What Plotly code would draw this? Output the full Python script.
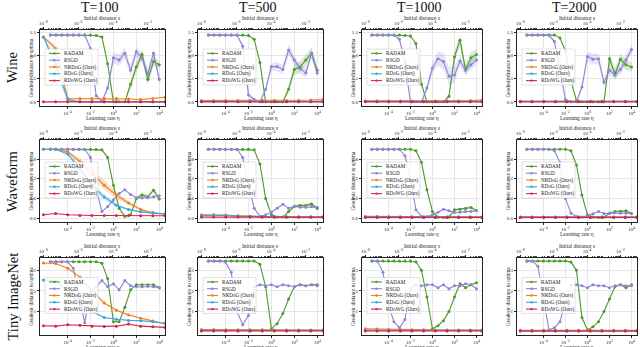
import plotly.graph_objects as go

# ---------------- data ----------------
lr_exp = [-5.5, -5.0, -4.5, -4.0, -3.5, -3.0, -2.5, -2.0, -1.5, -1.0,
          -0.5, 0.0, 0.5, 1.0, 1.5, 2.0, 2.5, 3.0, 3.5, 4.0]
eps_exp = [-8.0, -7.3, -6.6, -5.9, -5.2, -4.5, -3.8, -3.1, -2.4, -1.7, -1.0]
learning_rate = [10 ** e for e in lr_exp]
init_distance = [10 ** e for e in eps_exp]

horizons = ["T=100", "T=500", "T=1000", "T=2000"]
datasets = ["Wine", "Waveform", "Tiny ImageNet"]
methods = ["RADAM", "RSGD", "NRDoG (Ours)", "RDoG (Ours)", "RDoWG (Ours)"]
colors = ["#4d9a2c", "#8f82d8", "#f07e1b", "#3ba5dd", "#d42649"]

lr_tick_exp = [-4, -2, 0, 2, 4]
eps_tick_exp = [-8, -6, -4, -2]
wine_yticks = [0.0, 0.5, 1.0, 1.5]
wave_yticks = [0.0, 0.6, 1.2, 1.8]
tiny_yticks = [1, 2, 3]

# one list per horizon: T=100, T=500, T=1000, T=2000
wine_radam = [
    [1.44, 1.44, 1.44, 1.44, 1.44, 1.44, 1.44, 1.44, 1.43, 1.40, 0.82, 0.0, 0.0, 0.0, 0.38, 0.75, 1.02, 0.48, 0.87, 0.80],
    [1.44, 1.44, 1.44, 1.44, 1.44, 1.44, 1.44, 1.43, 1.35, 0.85, 0.0, 0.0, 0.0, 0.0, 0.27, 0.70, 0.75, 0.90, 1.05, 0.68],
    [1.44, 1.44, 1.44, 1.44, 1.44, 1.44, 1.43, 1.42, 1.26, 0.38, 0.0, 0.0, 0.0, 0.0, 0.12, 0.97, 1.33, 0.70, 0.95, 1.02],
    [1.44, 1.44, 1.44, 1.44, 1.44, 1.44, 1.38, 1.10, 0.45, 0.03, 0.0, 0.0, 0.0, 0.0, 0.0, 0.93, 0.60, 0.92, 0.80, 0.75],
]
wine_rsgd = [
    [1.44, 1.44, 1.44, 1.44, 1.44, 1.44, 1.44, 1.15, 0.13, 0.01, 0.30, 0.95, 0.90, 1.05, 0.68, 1.08, 0.95, 0.60, 1.05, 0.48],
    [1.44, 1.44, 1.44, 1.44, 1.44, 1.44, 1.20, 0.15, 0.05, 0.0, 0.27, 0.76, 0.76, 0.70, 1.12, 0.90, 0.72, 0.62, 1.05, 0.62],
    [1.44, 1.44, 1.44, 1.44, 1.44, 1.35, 0.85, 0.0, 0.0, 0.0, 0.30, 0.73, 0.93, 0.87, 0.55, 0.58, 0.88, 0.68, 0.80, 0.90],
    [1.44, 1.44, 1.44, 1.44, 1.44, 1.30, 0.70, 0.05, 0.0, 0.0, 0.32, 0.98, 0.92, 0.93, 0.42, 0.68, 0.58, 0.70, 0.90, 1.13],
]
wine_nrdog = [
    [1.40, 1.15, 0.07, 0.07, 0.07, 0.07, 0.07, 0.06, 0.05, 0.07, 0.10],
    [0.03, 0.03, 0.03, 0.03, 0.03, 0.03, 0.03, 0.03, 0.03, 0.04, 0.05],
    [0.02, 0.02, 0.02, 0.02, 0.02, 0.02, 0.02, 0.02, 0.02, 0.03, 0.04],
    [0.01, 0.01, 0.01, 0.01, 0.01, 0.01, 0.01, 0.01, 0.01, 0.01, 0.01],
]
wine_rdog = [
    [1.40, 0.80, 0.05, 0.0, 0.0, 0.0, 0.0, 0.0, 0.0, 0.0, 0.0],
    [0.01, 0.01, 0.01, 0.01, 0.01, 0.01, 0.01, 0.01, 0.01, 0.01, 0.01],
    [0.01, 0.01, 0.01, 0.01, 0.01, 0.01, 0.01, 0.01, 0.01, 0.01, 0.01],
    [0.01, 0.01, 0.01, 0.01, 0.01, 0.01, 0.01, 0.01, 0.01, 0.01, 0.01],
]
wine_rdowg = [
    [0.0, 0.0, 0.0, 0.0, 0.0, 0.0, 0.0, 0.0, 0.0, 0.0, 0.0],
    [0.0, 0.0, 0.0, 0.0, 0.0, 0.0, 0.0, 0.0, 0.0, 0.0, 0.0],
    [0.0, 0.0, 0.0, 0.0, 0.0, 0.0, 0.0, 0.0, 0.0, 0.0, 0.0],
    [0.0, 0.0, 0.0, 0.0, 0.0, 0.0, 0.0, 0.0, 0.0, 0.0, 0.0],
]

wave_radam = [
    [2.10, 2.10, 2.10, 2.10, 2.10, 2.10, 2.10, 2.10, 2.09, 2.08, 1.85, 1.00, 0.30, 0.05, 0.10, 0.60, 0.70, 0.65, 0.85, 0.58],
    [2.10, 2.10, 2.10, 2.10, 2.10, 2.10, 2.10, 2.10, 2.08, 1.65, 0.60, 0.10, 0.03, 0.03, 0.20, 0.36, 0.38, 0.38, 0.43, 0.29],
    [2.10, 2.10, 2.10, 2.10, 2.10, 2.10, 2.10, 2.10, 2.05, 1.70, 0.86, 0.20, 0.03, 0.02, 0.03, 0.25, 0.27, 0.29, 0.32, 0.23],
    [2.10, 2.10, 2.10, 2.10, 2.10, 2.10, 2.10, 2.10, 2.05, 1.62, 0.70, 0.10, 0.03, 0.02, 0.03, 0.15, 0.20, 0.21, 0.22, 0.14],
]
wave_rsgd = [
    [2.10, 2.10, 2.10, 2.10, 2.10, 2.10, 2.10, 1.85, 0.90, 0.20, 0.35, 0.55, 0.75, 0.86, 0.72, 0.62, 0.61, 0.62, 0.65, 0.68],
    [2.10, 2.10, 2.10, 2.10, 2.10, 2.10, 1.85, 1.00, 0.30, 0.05, 0.10, 0.18, 0.30, 0.42, 0.30, 0.36, 0.33, 0.33, 0.35, 0.33],
    [2.10, 2.10, 2.10, 2.10, 2.10, 2.10, 1.90, 1.20, 0.25, 0.05, 0.05, 0.10, 0.18, 0.27, 0.22, 0.17, 0.18, 0.20, 0.20, 0.22],
    [2.10, 2.10, 2.10, 2.10, 2.10, 2.05, 1.70, 0.60, 0.15, 0.05, 0.03, 0.07, 0.13, 0.20, 0.14, 0.15, 0.16, 0.15, 0.15, 0.14],
]
wave_nrdog = [
    [2.10, 2.09, 2.02, 1.72, 1.36, 1.00, 0.70, 0.46, 0.26, 0.16, 0.13],
    [0.10, 0.10, 0.09, 0.07, 0.05, 0.04, 0.03, 0.03, 0.03, 0.03, 0.03],
    [0.05, 0.05, 0.04, 0.04, 0.04, 0.03, 0.03, 0.03, 0.03, 0.03, 0.03],
    [0.03, 0.03, 0.03, 0.03, 0.03, 0.03, 0.03, 0.03, 0.03, 0.03, 0.03],
]
wave_rdog = [
    [2.10, 2.10, 1.95, 1.50, 1.00, 0.64, 0.39, 0.26, 0.19, 0.16, 0.12],
    [0.08, 0.09, 0.08, 0.06, 0.05, 0.04, 0.03, 0.03, 0.03, 0.03, 0.03],
    [0.04, 0.04, 0.04, 0.03, 0.03, 0.03, 0.03, 0.03, 0.03, 0.03, 0.03],
    [0.03, 0.03, 0.03, 0.03, 0.03, 0.03, 0.03, 0.03, 0.03, 0.03, 0.03],
]
wave_rdowg = [
    [0.10, 0.14, 0.10, 0.08, 0.08, 0.08, 0.08, 0.08, 0.07, 0.07, 0.07],
    [0.03, 0.03, 0.03, 0.03, 0.03, 0.03, 0.03, 0.03, 0.03, 0.03, 0.03],
    [0.02, 0.02, 0.02, 0.02, 0.02, 0.02, 0.02, 0.02, 0.02, 0.02, 0.02],
    [0.02, 0.02, 0.02, 0.02, 0.02, 0.02, 0.02, 0.02, 0.02, 0.02, 0.02],
]

tiny_radam = [
    [3.42, 3.42, 3.42, 3.42, 3.42, 3.42, 3.42, 3.42, 3.42, 3.35, 2.60, 0.50, 0.50, 1.20, 2.05, 2.30, 2.30, 2.30, 2.30, 2.15],
    [3.45, 3.45, 3.45, 3.45, 3.45, 3.45, 3.45, 3.45, 3.45, 3.30, 2.20, 0.15, 0.40, 0.90, 1.60, 2.20, 2.30, 2.25, 2.30, 2.30],
    [3.45, 3.45, 3.45, 3.45, 3.45, 3.45, 3.45, 3.45, 3.42, 3.00, 1.70, 0.15, 0.30, 0.55, 1.00, 1.70, 2.35, 2.15, 2.30, 2.40],
    [3.45, 3.45, 3.45, 3.45, 3.45, 3.45, 3.45, 3.45, 3.40, 3.00, 0.70, 0.10, 0.25, 0.50, 1.00, 1.60, 2.20, 2.30, 2.15, 2.30],
]
tiny_rsgd = [
    [3.42, 3.42, 3.42, 3.42, 3.10, 1.80, 0.45, 1.95, 2.20, 2.50, 2.20, 2.35, 2.05, 2.50, 2.25, 2.20, 2.20, 2.22, 2.20, 2.15],
    [3.45, 3.45, 3.45, 3.40, 2.90, 1.00, 0.35, 0.80, 2.20, 2.30, 2.25, 2.30, 2.20, 2.30, 2.25, 2.20, 2.30, 2.25, 2.30, 2.25],
    [3.45, 3.45, 2.90, 1.30, 0.50, 0.20, 0.60, 2.10, 2.30, 2.25, 2.30, 2.30, 2.15, 2.30, 2.10, 2.25, 2.25, 2.35, 2.30, 2.10],
    [3.45, 3.45, 3.20, 1.60, 0.10, 0.20, 0.50, 1.45, 2.30, 2.30, 2.25, 2.15, 2.30, 2.25, 2.25, 2.15, 2.25, 2.30, 2.25, 2.25],
]
tiny_nrdog = [
    [3.36, 3.33, 3.10, 2.67, 1.98, 1.41, 1.06, 0.83, 0.67, 0.53, 0.40],
    [0.12, 0.12, 0.11, 0.10, 0.10, 0.10, 0.09, 0.09, 0.09, 0.09, 0.09],
    [0.15, 0.14, 0.12, 0.10, 0.10, 0.10, 0.09, 0.09, 0.09, 0.09, 0.09],
    [0.08, 0.08, 0.08, 0.08, 0.08, 0.08, 0.08, 0.08, 0.08, 0.08, 0.08],
]
tiny_rdog = [
    [2.53, 2.47, 1.95, 1.41, 0.98, 0.70, 0.62, 0.56, 0.55, 0.50, 0.42],
    [0.08, 0.08, 0.08, 0.08, 0.08, 0.08, 0.08, 0.08, 0.08, 0.08, 0.08],
    [0.08, 0.08, 0.08, 0.08, 0.08, 0.08, 0.08, 0.08, 0.08, 0.08, 0.08],
    [0.06, 0.06, 0.06, 0.06, 0.06, 0.06, 0.06, 0.06, 0.06, 0.06, 0.06],
]
tiny_rdowg = [
    [0.30, 0.28, 0.35, 0.33, 0.28, 0.27, 0.28, 0.38, 0.28, 0.25, 0.22],
    [0.05, 0.05, 0.05, 0.05, 0.05, 0.05, 0.05, 0.05, 0.05, 0.05, 0.05],
    [0.05, 0.05, 0.05, 0.05, 0.05, 0.05, 0.05, 0.05, 0.05, 0.05, 0.05],
    [0.04, 0.04, 0.04, 0.04, 0.04, 0.04, 0.04, 0.04, 0.04, 0.04, 0.04],
]

# spread (std)
wine_radam_std = [
    [0, 0, 0, 0, 0, 0, 0, 0, 0.01, 0.02, 0.05, 0, 0, 0, 0.10, 0.12, 0.12, 0.12, 0.10, 0.08],
    [0, 0, 0, 0, 0, 0, 0, 0, 0.02, 0.05, 0, 0, 0, 0, 0.08, 0.12, 0.12, 0.12, 0.12, 0.10],
    [0, 0, 0, 0, 0, 0, 0, 0, 0.02, 0.05, 0, 0, 0, 0, 0.05, 0.12, 0.12, 0.12, 0.12, 0.12],
    [0, 0, 0, 0, 0, 0, 0.02, 0.04, 0.05, 0, 0, 0, 0, 0, 0, 0.12, 0.12, 0.12, 0.12, 0.10],
]
wine_rsgd_std = [
    [0.01, 0.01, 0.01, 0.01, 0.01, 0.01, 0.01, 0.05, 0.05, 0.02, 0.08, 0.12, 0.12, 0.12, 0.12, 0.12, 0.10, 0.12, 0.10, 0.10],
    [0.01, 0.01, 0.01, 0.01, 0.01, 0.01, 0.05, 0.05, 0.02, 0, 0.06, 0.08, 0.10, 0.10, 0.12, 0.10, 0.10, 0.10, 0.10, 0.08],
    [0.01, 0.01, 0.01, 0.01, 0.01, 0.04, 0.05, 0, 0, 0, 0.08, 0.12, 0.15, 0.18, 0.20, 0.18, 0.12, 0.10, 0.10, 0.10],
    [0.02, 0.02, 0.02, 0.02, 0.02, 0.05, 0.06, 0.02, 0, 0, 0.06, 0.10, 0.12, 0.12, 0.10, 0.10, 0.10, 0.10, 0.10, 0.10],
]
wine_nrdog_std = [
    [0.02, 0.08, 0.01, 0.01, 0.01, 0.01, 0.01, 0.01, 0.01, 0.01, 0.01],
    [0.0, 0.0, 0.0, 0.0, 0.0, 0.0, 0.0, 0.0, 0.0, 0.0, 0.0],
    [0.0, 0.0, 0.0, 0.0, 0.0, 0.0, 0.0, 0.0, 0.0, 0.0, 0.0],
    [0.0, 0.0, 0.0, 0.0, 0.0, 0.0, 0.0, 0.0, 0.0, 0.0, 0.0],
]
wine_rdog_std = [
    [0.02, 0.18, 0.05, 0.0, 0.0, 0.0, 0.0, 0.0, 0.0, 0.0, 0.0],
    [0.0, 0.0, 0.0, 0.0, 0.0, 0.0, 0.0, 0.0, 0.0, 0.0, 0.0],
    [0.0, 0.0, 0.0, 0.0, 0.0, 0.0, 0.0, 0.0, 0.0, 0.0, 0.0],
    [0.0, 0.0, 0.0, 0.0, 0.0, 0.0, 0.0, 0.0, 0.0, 0.0, 0.0],
]
wave_radam_std = [
    [0, 0, 0, 0, 0, 0, 0, 0, 0, 0.02, 0.04, 0.05, 0.03, 0.02, 0.03, 0.06, 0.08, 0.06, 0.08, 0.06],
    [0, 0, 0, 0, 0, 0, 0, 0, 0, 0.03, 0.05, 0.02, 0.01, 0.01, 0.03, 0.05, 0.06, 0.06, 0.06, 0.04],
    [0, 0, 0, 0, 0, 0, 0, 0, 0, 0.02, 0.04, 0.02, 0.01, 0.01, 0.02, 0.03, 0.03, 0.04, 0.04, 0.03],
    [0, 0, 0, 0, 0, 0, 0, 0, 0, 0.02, 0.04, 0.02, 0.01, 0.01, 0.02, 0.03, 0.03, 0.03, 0.03, 0.03],
]
wave_nrdog_std = [
    [0.01, 0.02, 0.05, 0.10, 0.14, 0.14, 0.10, 0.06, 0.03, 0.02, 0.01],
    [0.01, 0.01, 0.01, 0.01, 0.01, 0.01, 0.01, 0.01, 0.01, 0.01, 0.01],
    [0.01, 0.01, 0.01, 0.01, 0.01, 0.01, 0.01, 0.01, 0.01, 0.01, 0.01],
    [0.01, 0.01, 0.01, 0.01, 0.01, 0.01, 0.01, 0.01, 0.01, 0.01, 0.01],
]
wave_rdog_std = [
    [0.01, 0.02, 0.06, 0.10, 0.10, 0.08, 0.05, 0.03, 0.02, 0.01, 0.01],
    [0.01, 0.01, 0.01, 0.01, 0.01, 0.01, 0.01, 0.01, 0.01, 0.01, 0.01],
    [0.01, 0.01, 0.01, 0.01, 0.01, 0.01, 0.01, 0.01, 0.01, 0.01, 0.01],
    [0.01, 0.01, 0.01, 0.01, 0.01, 0.01, 0.01, 0.01, 0.01, 0.01, 0.01],
]
tiny_rdog_std = [
    [0.10, 0.10, 0.12, 0.08, 0.05, 0.03, 0.02, 0.02, 0.02, 0.02, 0.02],
    [0.01, 0.01, 0.01, 0.01, 0.01, 0.01, 0.01, 0.01, 0.01, 0.01, 0.01],
    [0.01, 0.01, 0.01, 0.01, 0.01, 0.01, 0.01, 0.01, 0.01, 0.01, 0.01],
    [0.01, 0.01, 0.01, 0.01, 0.01, 0.01, 0.01, 0.01, 0.01, 0.01, 0.01],
]

# ---------------- layout helpers ----------------
W, H = 640, 347
SERIF = "Liberation Serif"
col_px = [(40, 165), (198, 323), (362, 482), (517, 637)]
row_px = [(30, 106), (140, 222), (258, 335)]
y_ranges = [(-0.09, 1.55), (-0.12, 2.38), (-0.15, 3.6)]
y_ticks = [wine_yticks, wave_yticks, tiny_yticks]
y_fmt = ["{:.1f}", "{:.1f}", "{:d}"]

rows = [
    (wine_radam, wine_rsgd, wine_nrdog, wine_rdog, wine_rdowg),
    (wave_radam, wave_rsgd, wave_nrdog, wave_rdog, wave_rdowg),
    (tiny_radam, tiny_rsgd, tiny_nrdog, tiny_rdog, tiny_rdowg),
]
bands = {
    (0, 0): wine_radam_std, (0, 1): wine_rsgd_std,
    (0, 2): wine_nrdog_std, (0, 3): wine_rdog_std,
    (1, 0): wave_radam_std, (1, 2): wave_nrdog_std, (1, 3): wave_rdog_std,
    (2, 3): tiny_rdog_std,
}


def fx(x):
    return x / W


def fy(y):
    return 1 - y / H


def rgba(h, a):
    h = h.lstrip("#")
    return "rgba(%d,%d,%d,%.2f)" % (int(h[0:2], 16), int(h[2:4], 16), int(h[4:6], 16), a)


def sup(e):
    return "10<sup>" + str(e).replace("-", "\u2212") + "</sup>"


def ref(kind, k):
    return kind if k == 1 else f"{kind}{k}"


def label(x, y, text, size, angle=0, xanchor="center", color="#222"):
    return dict(x=fx(x), y=fy(y), xref="paper", yref="paper", text=text,
                showarrow=False, textangle=angle, xanchor=xanchor, yanchor="middle",
                font=dict(family=SERIF, size=size, color=color))


fig = go.Figure()
layout = {}
shapes = []
annotations = []

small = dict(family=SERIF, size=5, color="#222")
eps_minor = [m * 10 ** e for e in range(-9, 0) for m in range(2, 10)]

for r in range(3):
    for c in range(4):
        k = r * 4 + c + 1
        kt = k + 12
        xb, yb, xt = ref("x", k), ref("y", k), ref("x", kt)
        x0, x1 = col_px[c]
        y0, y1 = row_px[r]

        layout[ref("xaxis", k)] = dict(
            domain=[fx(x0), fx(x1)], anchor=yb, type="log", range=[-6.4, 4.5],
            tickvals=[10 ** e for e in lr_tick_exp], ticktext=[sup(e) for e in lr_tick_exp],
            tickfont=small, ticks="outside", ticklen=2, tickwidth=0.6, tickcolor="#222",
            showline=True, linecolor="#222", linewidth=0.8, mirror=True,
            showgrid=True, gridcolor="#e6e6e6", gridwidth=0.6, zeroline=False)
        layout[ref("xaxis", kt)] = dict(
            domain=[fx(x0), fx(x1)], anchor=yb, overlaying=xb, side="top", type="log",
            range=[-8.2, -1.0],
            tickvals=[10 ** e for e in eps_tick_exp], ticktext=[sup(e) for e in eps_tick_exp],
            tickfont=small, ticks="outside", ticklen=2, tickwidth=0.6, tickcolor="#222",
            minor=dict(tickvals=eps_minor, ticks="outside", ticklen=1.3, tickwidth=0.4,
                       tickcolor="#444", showgrid=False),
            showline=False, showgrid=False, zeroline=False)
        layout[ref("yaxis", k)] = dict(
            domain=[fy(y1), fy(y0)], anchor=xb, range=list(y_ranges[r]),
            tickvals=y_ticks[r], ticktext=[y_fmt[r].format(v) for v in y_ticks[r]],
            tickfont=small, ticks="outside", ticklen=2, tickwidth=0.6, tickcolor="#222",
            showline=True, linecolor="#222", linewidth=0.8, mirror=True,
            showgrid=True, gridcolor="#e6e6e6", gridwidth=0.6, zeroline=False)

        series = rows[r]
        # shaded bands first
        for m in range(5):
            if (r, m) not in bands:
                continue
            xs = learning_rate if m < 2 else init_distance
            xa = xb if m < 2 else xt
            ys = series[m][c]
            sd = bands[(r, m)][c]
            if max(sd) == 0:
                continue
            up = [v + s for v, s in zip(ys, sd)]
            lo = [v - s for v, s in zip(ys, sd)]
            fig.add_trace(go.Scatter(
                x=xs + xs[::-1], y=up + lo[::-1], fill="toself",
                fillcolor=rgba(colors[m], 0.22), line=dict(width=0),
                mode="lines", xaxis=xa, yaxis=yb, hoverinfo="skip", showlegend=False))
        for m in range(5):
            xs = learning_rate if m < 2 else init_distance
            xa = xb if m < 2 else xt
            fig.add_trace(go.Scatter(
                x=xs, y=series[m][c], mode="lines+markers",
                line=dict(color=colors[m], width=1.1),
                marker=dict(size=3, color=colors[m]),
                xaxis=xa, yaxis=yb, name=methods[m], showlegend=False))

        # axis titles
        xc = (x0 + x1) / 2
        annotations.append(label(xc, y0 - 12.5, "Initial distance \u03b5", 5.5))
        annotations.append(label(xc, y1 + 11.5, "Learning rate \u03b7", 5.5))
        annotations.append(label(x0 - 9.5, (y0 + y1) / 2, "Geodesic distance to optima", 5.2, angle=-90))

        # legend box (center left)
        yc = (y0 + y1) / 2 - 1
        shapes.append(dict(type="rect", xref="paper", yref="paper",
                           x0=fx(x0 + 5), x1=fx(x0 + 58), y0=fy(yc + 18), y1=fy(yc - 18),
                           fillcolor="rgba(255,255,255,0.85)", line=dict(color="#cccccc", width=0.6)))
        for m in range(5):
            ye = yc + (m - 2) * 6.8
            shapes.append(dict(type="line", xref="paper", yref="paper",
                               x0=fx(x0 + 9), x1=fx(x0 + 20), y0=fy(ye), y1=fy(ye),
                               line=dict(color=colors[m], width=1.1)))
            shapes.append(dict(type="circle", xref="paper", yref="paper",
                               x0=fx(x0 + 13.3), x1=fx(x0 + 15.7), y0=fy(ye + 1.2), y1=fy(ye - 1.2),
                               fillcolor=colors[m], line=dict(width=0)))
            annotations.append(label(x0 + 22, ye, methods[m], 5.2, xanchor="left"))

# column titles and row labels
for c in range(4):
    x0, x1 = col_px[c]
    annotations.append(label((x0 + x1) / 2 - 3, 8, horizons[c], 14, color="#111"))
for r in range(3):
    y0, y1 = row_px[r]
    annotations.append(label(12, (y0 + y1) / 2, datasets[r], 14.5, angle=-90, color="#111"))

fig.update_layout(
    width=W, height=H, margin=dict(l=0, r=0, t=0, b=0),
    paper_bgcolor="white", plot_bgcolor="white", showlegend=False,
    font=dict(family=SERIF), shapes=shapes, annotations=annotations, **layout)

fig.write_html("out.html", config={"displayModeBar": False},
               post_script="document.body.style.margin='0';")
